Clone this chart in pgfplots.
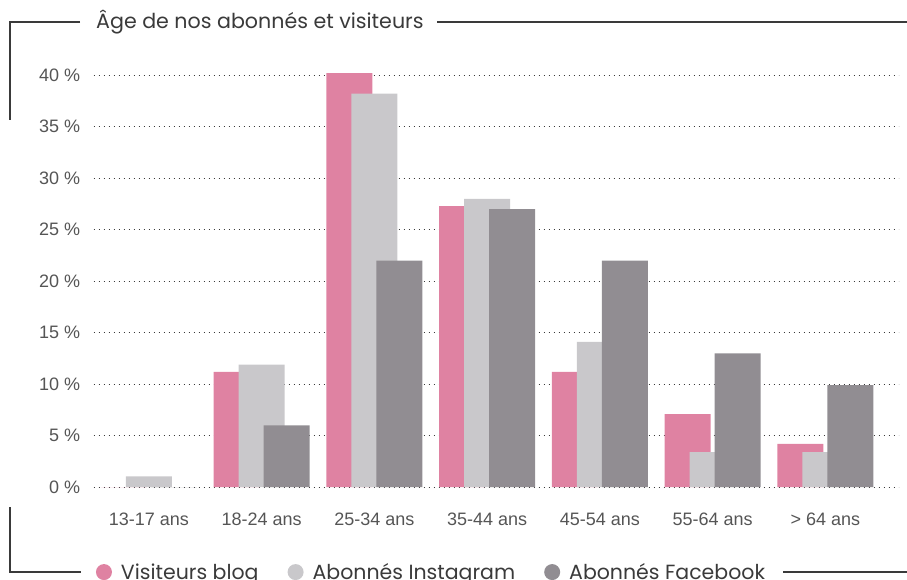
\documentclass[border=0pt]{standalone}
\usepackage{fontspec}
\setmainfont{Poppins}
\newfontfamily\arialf{Liberation Sans}
\usepackage{pgfplots}
\pgfplotsset{compat=1.18}
\definecolor{cpink}{HTML}{DF82A2}
\definecolor{clight}{HTML}{C9C8CB}
\definecolor{cdark}{HTML}{918D92}
\definecolor{cline}{HTML}{3A3A3A}
\definecolor{ctick}{HTML}{555555}
\begin{document}
\begin{tikzpicture}[x=1pt,y=1pt]
\begin{axis}[
  at={(83,-473)}, anchor=south west,
  scale only axis, width=805pt, height=422.3pt,
  xmin=-0.49, xmax=6.65, ymin=0, ymax=41,
  xtick={0,...,6},
  xticklabels={13-17 ans,18-24 ans,25-34 ans,35-44 ans,45-54 ans,55-64 ans,{> 64 ans}},
  ytick={0,5,...,40},
  /pgf/number format/assume math mode=true,
  yticklabel={\pgfmathprintnumber{\tick}~\%},
  ticklabel style={font=\arialf\fontsize{18}{20}\selectfont, text=ctick},
  xticklabel style={yshift=-22pt},
  yticklabel style={xshift=-10pt},
  axis line style={draw=none},
  major tick length=0pt,
  ymajorgrids,
  grid style={cline, line width=1.1pt, dash pattern=on 1.1pt off 3.9pt},
  ybar, bar width=46pt,
  legend columns=3,
  legend cell align=left,
  legend style={at={(axis description cs:-0.001,-0.201)}, anchor=west, draw=none, fill=none,
    font=\fontsize{20.5}{24}\selectfont, text=cline,
    /tikz/every even column/.append style={column sep=27pt}},
  legend image code/.code={\fill[#1] (4pt,0pt) circle (8pt); \path (19pt,0pt);},
]
\addplot[fill=cpink, draw=none, bar shift=-25pt] coordinates {(0,0) (1,11.2) (2,40.2) (3,27.3) (4,11.2) (5,7.1) (6,4.2)};
\addplot[fill=clight, draw=none, bar shift=0pt] coordinates {(0,1.05) (1,11.9) (2,38.2) (3,28.0) (4,14.1) (5,3.4) (6,3.4)};
\addplot[fill=cdark, draw=none, bar shift=25pt] coordinates {(0,0) (1,6.0) (2,22.0) (3,27.0) (4,22.0) (5,13.0) (6,9.9)};
\legend{Visiteurs blog, Abonnés Instagram, Abonnés Facebook}
\end{axis}
\draw[cline, line width=1.2pt] (80,-22) -- (10,-22) -- (10,-120);
\draw[cline, line width=1.2pt] (437,-22) -- (907,-22);
\draw[cline, line width=1.2pt] (10,-507) -- (10,-572) -- (81,-572);
\draw[cline, line width=1.2pt] (783,-572) -- (907,-572);
\node[anchor=west, inner sep=0pt, font=\fontsize{20.6}{24}\selectfont, text=cline] at (96,-22) {Âge de nos abonnés et visiteurs};
\pgfresetboundingbox
\path[use as bounding box] (0,0) rectangle (907,-580);
\end{tikzpicture}
\end{document}
